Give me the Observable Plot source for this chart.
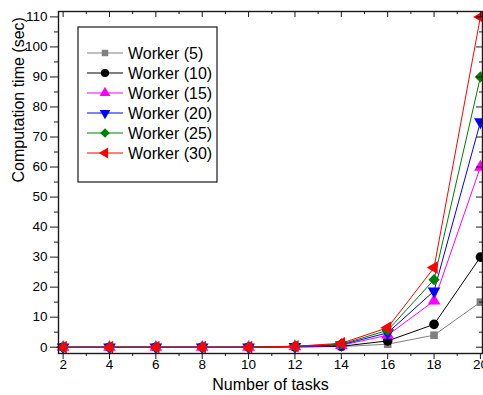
<!DOCTYPE html>
<html>
<head>
<meta charset="utf-8">
<script src="https://cdn.jsdelivr.net/npm/d3@7"></script>
<script src="https://cdn.jsdelivr.net/npm/@observablehq/plot@0.6"></script>
<style>
  html, body { margin: 0; padding: 0; background: #fff; }
  #chart svg { display: block; }
</style>
</head>
<body>
<div id="chart"></div>
<script>
// ---- data ----
const tasks = [2, 4, 6, 8, 10, 12, 14, 16, 18, 20];
const seriesNames = ["Worker (5)", "Worker (10)", "Worker (15)", "Worker (20)", "Worker (25)", "Worker (30)"];
const worker5  = [0, 0, 0, 0, 0, 0.1, 0.2, 1.0, 4.0, 15];
const worker10 = [0, 0, 0, 0, 0, 0.1, 0.3, 2.1, 7.6, 30];
const worker15 = [0, 0, 0, 0, 0, 0.2, 0.6, 4.0, 15.4, 60];
const worker20 = [0, 0, 0, 0, 0, 0.2, 0.8, 4.8, 18.7, 75];
const worker25 = [0, 0, 0, 0, 0, 0.3, 1.0, 5.6, 22.5, 90];
const worker30 = [0, 0, 0, 0, 0, 0.3, 1.3, 6.5, 26.5, 110];
const xTicks = [2, 4, 6, 8, 10, 12, 14, 16, 18, 20];
const xMinorTicks = [3, 5, 7, 9, 11, 13, 15, 17, 19];
const yTicks = [0, 10, 20, 30, 40, 50, 60, 70, 80, 90, 100, 110];
const yMinorTicks = [5, 15, 25, 35, 45, 55, 65, 75, 85, 95, 105];
const xLabel = "Number of tasks";
const yLabel = "Computation time (sec)";

// ---- styles ----
const allValues = [worker5, worker10, worker15, worker20, worker25, worker30];
const styles = [
  {color: "#808080", symbol: "square",   rotate: 0,   r: 4.3},
  {color: "#000000", symbol: "circle",   rotate: 0,   r: 4.8},
  {color: "#ff00ff", symbol: "triangle", rotate: 0,   r: 4.7},
  {color: "#0000ff", symbol: "triangle", rotate: 180, r: 4.7},
  {color: "#008000", symbol: "square",   rotate: 45,  r: 4.5},
  {color: "#ff0000", symbol: "triangle", rotate: -90, r: 4.7}
];

const W = 483, H = 395;
const mL = 58, mR = 1, mT = 11, mB = 42;
const frameW = W - mL - mR, frameH = H - mT - mB;
const font = "Arial, 'Liberation Sans', sans-serif";

const series = seriesNames.map((name, i) => ({
  name,
  ...styles[i],
  rows: tasks.map((t, j) => ({x: t, y: allValues[i][j]}))
}));

const marks = [];
series.forEach(s => {
  marks.push(Plot.line(s.rows, {x: "x", y: "y", stroke: s.color, strokeWidth: 1}));
  marks.push(Plot.dot(s.rows, {x: "x", y: "y", symbol: s.symbol, rotate: s.rotate, r: s.r, fill: s.color, stroke: "none"}));
});

const plot = Plot.plot({
  width: W, height: H,
  marginLeft: mL, marginRight: mR, marginTop: mT, marginBottom: mB,
  style: {fontFamily: font, fontSize: "13px", background: "#fff", color: "#000"},
  x: {domain: [1.8, 20.09], axis: null},
  y: {domain: [-2.1, 111.8], axis: null},
  marks: [
    ...marks,
    Plot.frame({stroke: "#1a1a1a", strokeWidth: 1.4}),
    // outward ticks (bottom, left)
    Plot.tickX(xTicks, {x: d => d, insetTop: frameH, insetBottom: -6, stroke: "#1a1a1a"}),
    Plot.tickX(xMinorTicks, {x: d => d, insetTop: frameH, insetBottom: -3, stroke: "#1a1a1a"}),
    Plot.tickY(yTicks, {y: d => d, insetLeft: -8, insetRight: frameW, stroke: "#1a1a1a"}),
    Plot.tickY(yMinorTicks, {y: d => d, insetLeft: -4, insetRight: frameW, stroke: "#1a1a1a"}),
    // inward ticks (top, right)
    Plot.tickX(xTicks, {x: d => d, insetBottom: frameH - 6, stroke: "#1a1a1a"}),
    Plot.tickX(xMinorTicks, {x: d => d, insetBottom: frameH - 3, stroke: "#1a1a1a"}),
    Plot.tickY(yTicks, {y: d => d, insetLeft: frameW - 6, stroke: "#1a1a1a"}),
    Plot.tickY(yMinorTicks, {y: d => d, insetLeft: frameW - 3, stroke: "#1a1a1a"}),
    // tick labels
    Plot.text(xTicks, {x: d => d, text: d => String(d), frameAnchor: "bottom", dy: 15, fontSize: 13.5, fill: "#000"}),
    Plot.text(yTicks, {y: d => d, text: d => String(d), frameAnchor: "left", dx: -11, textAnchor: "end", fontSize: 13.5, fill: "#000"}),
    // axis titles
    Plot.text([xLabel], {frameAnchor: "bottom", dy: 36, fontSize: 16, fill: "#000"}),
    Plot.text([yLabel], {frameAnchor: "left", dx: -40, rotate: -90, fontSize: 16, fill: "#000"})
  ]
});

document.getElementById("chart").appendChild(plot);

const svg = d3.select(plot.tagName.toLowerCase() === "svg" ? plot : plot.querySelector("svg"));

// ---- legend (inside plot, top-left) ----
const lg = svg.append("g").attr("transform", "translate(78,27)");
lg.append("rect").attr("width", 139).attr("height", 155)
  .attr("fill", "#fff").attr("stroke", "#1a1a1a").attr("stroke-width", 1.2);
const symMap = {circle: d3.symbolCircle, square: d3.symbolSquare, triangle: d3.symbolTriangle};
series.forEach((s, i) => {
  const cy = 26 + i * 20;
  const row = lg.append("g").attr("transform", `translate(0,${cy})`);
  row.append("line").attr("x1", 9).attr("x2", 45).attr("y1", 0).attr("y2", 0)
    .attr("stroke", s.color).attr("stroke-width", 1);
  const r = s.r * 0.85;
  row.append("path")
    .attr("d", d3.symbol(symMap[s.symbol], Math.PI * r * r)())
    .attr("transform", `translate(27,0) rotate(${s.rotate})`)
    .attr("fill", s.color);
  row.append("text").attr("x", 50).attr("y", 0).attr("dy", "0.35em")
    .attr("text-anchor", "start")
    .style("font-size", "16px").style("font-family", font).attr("fill", "#000")
    .text(s.name);
});
</script>
</body>
</html>
